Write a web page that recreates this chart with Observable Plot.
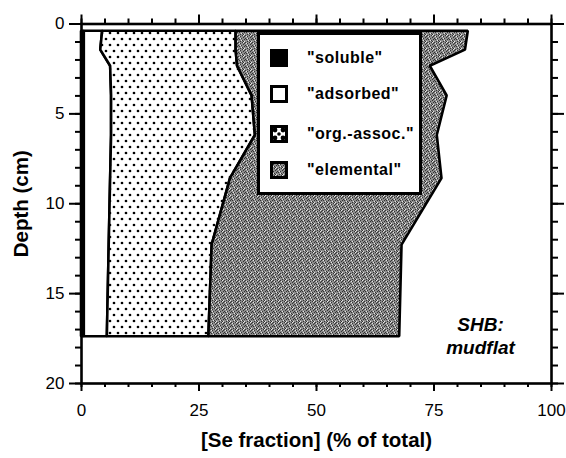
<!DOCTYPE html>
<html>
<head>
<meta charset="utf-8">
<script src="https://cdn.jsdelivr.net/npm/d3@7"></script>
<script src="https://cdn.jsdelivr.net/npm/@observablehq/plot@0.6"></script>
<style>
  body { margin: 0; background: #fff; }
  #wrap { position: relative; width: 566px; height: 458px; font-family: "Liberation Sans", Arial, sans-serif; }
  #legend { position: absolute; left: 257px; top: 32px; width: 165px; height: 163px; box-sizing: border-box;
            border: 3px solid #000; background: #fff; }
  .row { position: absolute; left: 10px; height: 18px; display: flex; align-items: center; }
  .row svg { display: block; flex: none; }
  .row span { margin-left: 19px; font-size: 16px; font-weight: bold; letter-spacing: 0.5px; color: #000; white-space: nowrap; }
</style>
</head>
<body>
<div id="wrap"></div>
<script>
// ---- data ----
const fractions = ["soluble", "adsorbed", "org.-assoc.", "elemental"];
const depths    = [0.4, 1.45, 2.35, 4.0, 6.2, 8.6, 12.3, 17.4];          // cm
const soluble   = [0.6, 0.6, 0.6, 0.6, 0.6, 0.6, 0.6, 0.6];              // % of total
const adsorbed  = [3.9, 3.5, 5.6, 5.8, 5.8, 5.6, 5.3, 4.9];
const orgAssoc  = [28.4, 28.8, 27.0, 29.9, 30.6, 25.5, 21.9, 21.6];
const elemental = [49.4, 48.8, 41.0, 41.5, 38.7, 45.0, 40.4, 40.6];
const xMajor = [0, 25, 50, 75, 100];
const xMinor = d3.range(0, 101, 5);
const yMajor = [0, 5, 10, 15, 20];
const yMinor = d3.range(0, 21, 1);
const legendLabels = ['"soluble"', '"adsorbed"', '"org.-assoc."', '"elemental"'];
const siteLabel = "SHB:\nmudflat";

const seriesValues = [soluble, adsorbed, orgAssoc, elemental];
const table = [];
depths.forEach((d, i) => fractions.forEach((f, j) => table.push({depth: d, fraction: f, value: seriesValues[j][i]})));

const fills = ["#000", "#fff", "url(#dots)", "url(#gray)"];
const font = '"Liberation Sans", Arial, sans-serif';

const svg = Plot.plot({
  width: 566,
  height: 458,
  marginLeft: 81,
  marginRight: 15,
  marginTop: 23.5,
  marginBottom: 75,
  style: {fontFamily: font, color: "#000", background: "#fff"},
  x: {domain: [0, 100]},
  y: {domain: [0, 20], reverse: true},
  color: {domain: fractions, range: fills},
  marks: [
    Plot.areaX(table, {y: "depth", x: "value", z: "fraction", order: fractions, fill: "fraction",
                       stroke: "#000", strokeWidth: 2.6, strokeLinejoin: "miter", curve: "linear"}),
    Plot.frame({stroke: "#000", strokeWidth: 2.6}),
    // bottom axis
    Plot.axisX({anchor: "bottom", ticks: xMajor, tickSize: 8, tickPadding: 12, fontSize: 17, strokeWidth: 2, label: null,
                tickFormat: d => d, style: {letterSpacing: "1px"}}),
    Plot.axisX({anchor: "bottom", ticks: xMinor, tickSize: 4, text: null, strokeWidth: 2, label: null}),
    // top axis
    Plot.axisX({anchor: "top", ticks: xMajor, tickSize: 10, text: null, strokeWidth: 2, label: null}),
    Plot.axisX({anchor: "top", ticks: xMinor, tickSize: 6, text: null, strokeWidth: 2, label: null}),
    // left axis
    Plot.axisY({anchor: "left", ticks: yMajor, tickSize: 12, tickPadding: 5, fontSize: 17, strokeWidth: 2, label: null,
                tickFormat: d => d, style: {letterSpacing: "1px"}}),
    Plot.axisY({anchor: "left", ticks: yMinor, tickSize: 6, text: null, strokeWidth: 2, label: null}),
    // right axis
    Plot.axisY({anchor: "right", ticks: yMajor, tickSize: 12, text: null, strokeWidth: 2, label: null}),
    Plot.axisY({anchor: "right", ticks: yMinor, tickSize: 6, text: null, strokeWidth: 2, label: null}),
    // axis titles
    Plot.text(["[Se fraction] (% of total)"], {frameAnchor: "bottom", dy: 57, fontSize: 20.5, fontWeight: "bold",
                fill: "#000", textAnchor: "middle", lineAnchor: "middle", style: {letterSpacing: "1px"}}),
    Plot.text(["Depth (cm)"], {frameAnchor: "left", dx: -60, rotate: -90, fontSize: 20.5, fontWeight: "bold",
                fill: "#000", textAnchor: "middle", lineAnchor: "middle", style: {letterSpacing: "1px"}}),
    // site annotation
    Plot.text([siteLabel], {frameAnchor: "bottom-right", dx: -71, dy: -30, textAnchor: "middle", lineAnchor: "bottom",
                fontSize: 19, fontWeight: "bold", fontStyle: "italic", lineHeight: 1.2, fill: "#000"})
  ]
});

// patterns
const defs = d3.select(svg).insert("defs", ":first-child");
const dots = defs.append("pattern").attr("id", "dots").attr("patternUnits", "userSpaceOnUse")
  .attr("width", 8).attr("height", 12);
dots.append("rect").attr("width", 8).attr("height", 12).attr("fill", "#fff");
dots.append("circle").attr("cx", 2).attr("cy", 3).attr("r", 1.35).attr("fill", "#000");
dots.append("circle").attr("cx", 6).attr("cy", 9).attr("r", 1.35).attr("fill", "#000");
// irregular stipple for the "elemental" fill
const gray = defs.append("pattern").attr("id", "gray").attr("patternUnits", "userSpaceOnUse")
  .attr("width", 7).attr("height", 7);
gray.append("rect").attr("width", 7).attr("height", 7).attr("fill", "#8c8c8c");
[[0,0],[4,0],[2,1],[6,1],[5,2],[0,3],[3,3],[1,4],[6,4],[4,5],[2,6],[5,6]]
  .forEach(([x,y]) => gray.append("rect").attr("x", x).attr("y", y).attr("width", 1).attr("height", 1).attr("fill", "#333"));
[[1,1],[3,5],[6,6],[2,3],[5,0]]
  .forEach(([x,y]) => gray.append("rect").attr("x", x).attr("y", y).attr("width", 1).attr("height", 1).attr("fill", "#e6e6e6"));

const wrap = document.getElementById("wrap");
wrap.appendChild(svg);

// legend (inside the plot area, as in the reference)
const legend = document.createElement("div");
legend.id = "legend";
const rowTops = [13.5, 50, 90, 126];
const swatch = [
  '<rect x="1.5" y="1.5" width="15" height="15" fill="#000" stroke="#000" stroke-width="3"/>',
  '<rect x="1.5" y="1.5" width="15" height="15" fill="#fff" stroke="#000" stroke-width="3"/>',
  '<rect x="1.5" y="1.5" width="15" height="15" fill="#fff" stroke="#000" stroke-width="3"/>' +
    '<circle cx="5" cy="5" r="2.4"/><circle cx="13" cy="5" r="2.4"/><circle cx="5" cy="13" r="2.4"/><circle cx="13" cy="13" r="2.4"/><circle cx="9" cy="9" r="1.8"/>',
  '<rect x="1.5" y="1.5" width="15" height="15" fill="url(#gray)" stroke="#000" stroke-width="3"/>'
];
legendLabels.forEach((lab, i) => {
  const row = document.createElement("div");
  row.className = "row";
  row.style.top = rowTops[i] + "px";
  row.innerHTML = `<svg width="18" height="18" viewBox="0 0 18 18">${swatch[i]}</svg><span>${lab}</span>`;
  legend.appendChild(row);
});
wrap.appendChild(legend);
</script>
</body>
</html>
